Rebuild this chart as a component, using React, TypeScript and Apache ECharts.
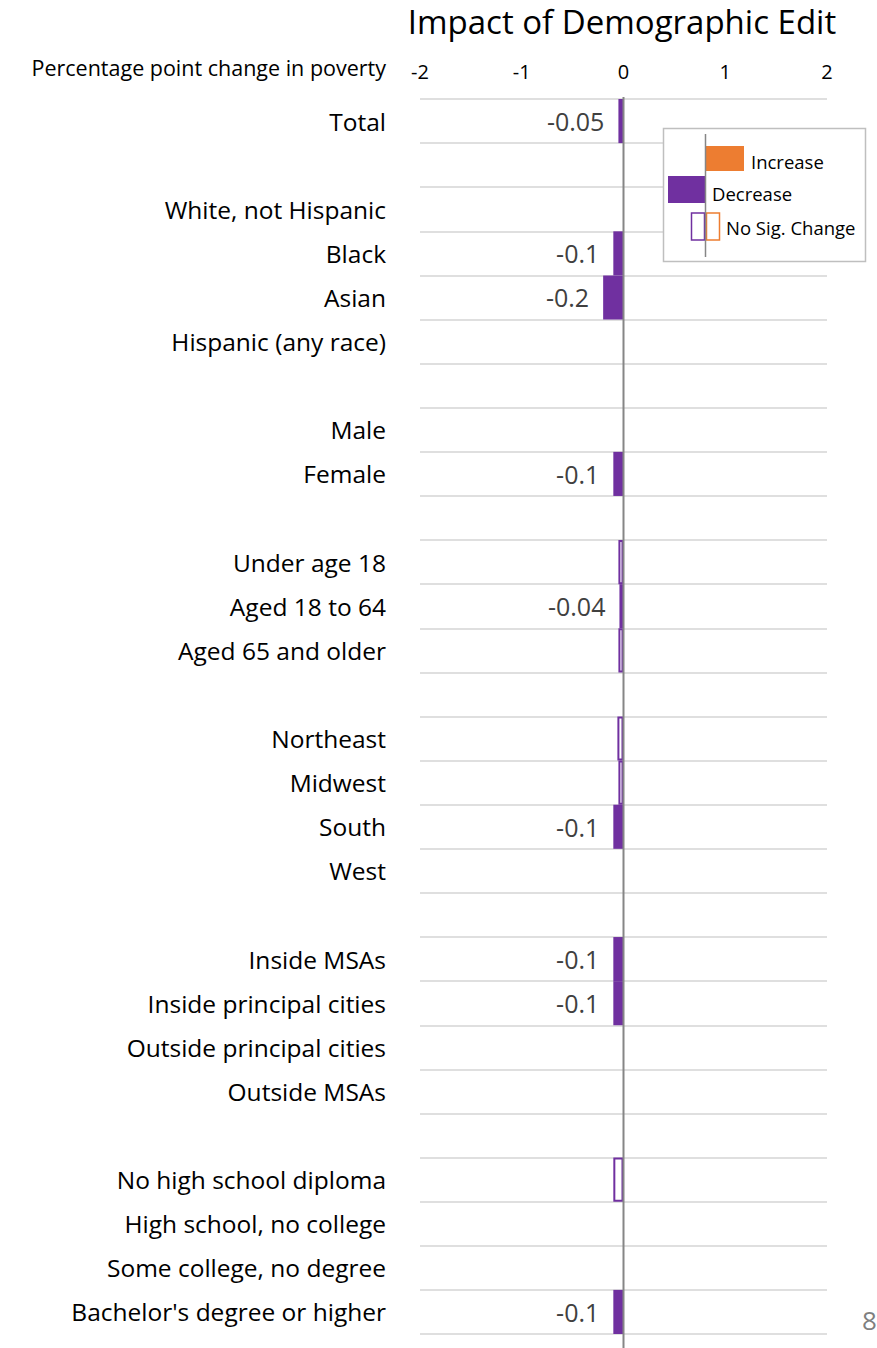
import React, { useEffect, useRef } from 'react';
import * as echarts from 'echarts';

const categories: string[] = [
  'Total', '',
  'White, not Hispanic', 'Black', 'Asian', 'Hispanic (any race)', '',
  'Male', 'Female', '',
  'Under age 18', 'Aged 18 to 64', 'Aged 65 and older', '',
  'Northeast', 'Midwest', 'South', 'West', '',
  'Inside MSAs', 'Inside principal cities', 'Outside principal cities', 'Outside MSAs', '',
  'No high school diploma', 'High school, no college', 'Some college, no degree', "Bachelor's degree or higher",
];

// '-' = no bar
const decreaseValues: (number | string)[] = [
  -0.05, '-',
  '-', -0.1, -0.2, '-', '-',
  '-', -0.1, '-',
  '-', -0.04, '-', '-',
  '-', '-', -0.1, '-', '-',
  -0.1, -0.1, '-', '-', '-',
  '-', '-', '-', -0.1,
];

const noSigValues: (number | string)[] = [
  '-', '-',
  '-', '-', '-', '-', '-',
  '-', '-', '-',
  -0.05, '-', -0.05, '-',
  -0.06, -0.05, '-', '-', '-',
  '-', '-', '-', '-', '-',
  -0.1, '-', '-', '-',
];

const increaseValues: (number | string)[] = categories.map(() => '-');

const xTicks = { min: -2, max: 2, interval: 1 };

const PURPLE = '#7030A0';
const ORANGE = '#ED7D31';
const FONT = 'Open Sans';
const GRID_TOP = 99;
const GRID_BOTTOM = 14;

export default function App() {
  const ref = useRef<HTMLDivElement>(null);

  useEffect(() => {
    if (!ref.current) return;
    const chart = echarts.init(ref.current, null, { renderer: 'svg' });
    const option: any = {
      animation: false,
      backgroundColor: '#fff',
      textStyle: { fontFamily: FONT },
      title: [
        {
          text: 'Impact of Demographic Edit',
          left: 617,
          textAlign: 'center',
          top: 0,
          textStyle: { fontFamily: FONT, fontSize: 33, fontWeight: 'normal', color: '#000' },
        },
        {
          text: 'Percentage point change in poverty',
          right: 877 - 386,
          top: 56,
          padding: 0,
          textStyle: { fontFamily: FONT, fontSize: 21.5, fontWeight: 'normal', color: '#000' },
        },
        {
          text: '8',
          left: 862,
          top: 1307,
          padding: 0,
          textStyle: { fontFamily: FONT, fontSize: 26, fontWeight: 'normal', color: '#7f7f7f' },
        },
      ],
      grid: { left: 420, right: 50, top: GRID_TOP, bottom: GRID_BOTTOM, containLabel: false },
      xAxis: {
        type: 'value',
        position: 'top',
        min: xTicks.min,
        max: xTicks.max,
        interval: xTicks.interval,
        axisLine: { show: false },
        axisTick: { show: false },
        splitLine: { show: false },
        axisLabel: { fontFamily: FONT, fontSize: 20, color: '#000', margin: 18 },
      },
      yAxis: {
        type: 'category',
        inverse: true,
        data: categories,
        axisLine: { show: false, onZero: false },
        axisTick: { show: false },
        axisLabel: { fontFamily: FONT, fontSize: 24.5, color: '#000', margin: 34, padding: [9, 0, 0, 0] },
        splitLine: { show: true, lineStyle: { color: '#d4d4d4', width: 1.5 } },
      },
      series: [
        {
          name: 'Decrease',
          type: 'bar',
          data: decreaseValues,
          barCategoryGap: '0%',
          barGap: '-100%',
          itemStyle: { color: PURPLE },
          label: {
            show: true,
            position: 'left',
            distance: 14,
            fontFamily: FONT,
            fontSize: 25,
            color: '#404040',
            padding: [5, 0, 0, 0],
          },
        },
        {
          name: 'No Sig. Change',
          type: 'bar',
          data: noSigValues,
          barCategoryGap: '0%',
          barGap: '-100%',
          itemStyle: { color: '#fff', borderColor: PURPLE, borderWidth: 2 },
        },
        {
          name: 'Increase',
          type: 'bar',
          data: increaseValues,
          barCategoryGap: '0%',
          barGap: '-100%',
          itemStyle: { color: ORANGE },
        },
      ],
    };
    chart.setOption(option);

    const x0 = chart.convertToPixel({ xAxisIndex: 0 }, 0) as number;
    const h = chart.getHeight();
    const legendText = { fontFamily: FONT, fontSize: 18.5, fill: '#000' };
    chart.setOption({
      graphic: [
        {
          type: 'line',
          z: 50,
          shape: { x1: x0, y1: GRID_TOP - 2, x2: x0, y2: h },
          style: { stroke: '#868686', lineWidth: 2 },
        },
        {
          type: 'group',
          z: 60,
          children: [
            { type: 'rect', shape: { x: 663.5, y: 128.5, width: 202, height: 133 }, style: { fill: '#fff', stroke: '#bfbfbf', lineWidth: 1.5 } },
            { type: 'rect', shape: { x: 706, y: 146, width: 38, height: 25 }, style: { fill: ORANGE } },
            { type: 'rect', shape: { x: 668, y: 176, width: 37, height: 27 }, style: { fill: PURPLE } },
            { type: 'rect', shape: { x: 691.5, y: 213, width: 13, height: 27 }, style: { fill: '#fff', stroke: PURPLE, lineWidth: 1.5 } },
            { type: 'rect', shape: { x: 706.5, y: 213, width: 13, height: 27 }, style: { fill: '#fff', stroke: ORANGE, lineWidth: 1.5 } },
            { type: 'line', shape: { x1: 705.5, y1: 134, x2: 705.5, y2: 257 }, style: { stroke: '#868686', lineWidth: 1.5 } },
            { type: 'text', x: 751, y: 161, style: { ...legendText, text: 'Increase', verticalAlign: 'middle' } },
            { type: 'text', x: 712, y: 193, style: { ...legendText, text: 'Decrease', verticalAlign: 'middle' } },
            { type: 'text', x: 726, y: 227, style: { ...legendText, text: 'No Sig. Change', verticalAlign: 'middle' } },
          ],
        },
      ],
    });

    return () => chart.dispose();
  }, []);

  return <div ref={ref} style={{ width: 877, height: 1348, position: 'absolute', left: 0, top: 0 }} />;
}
